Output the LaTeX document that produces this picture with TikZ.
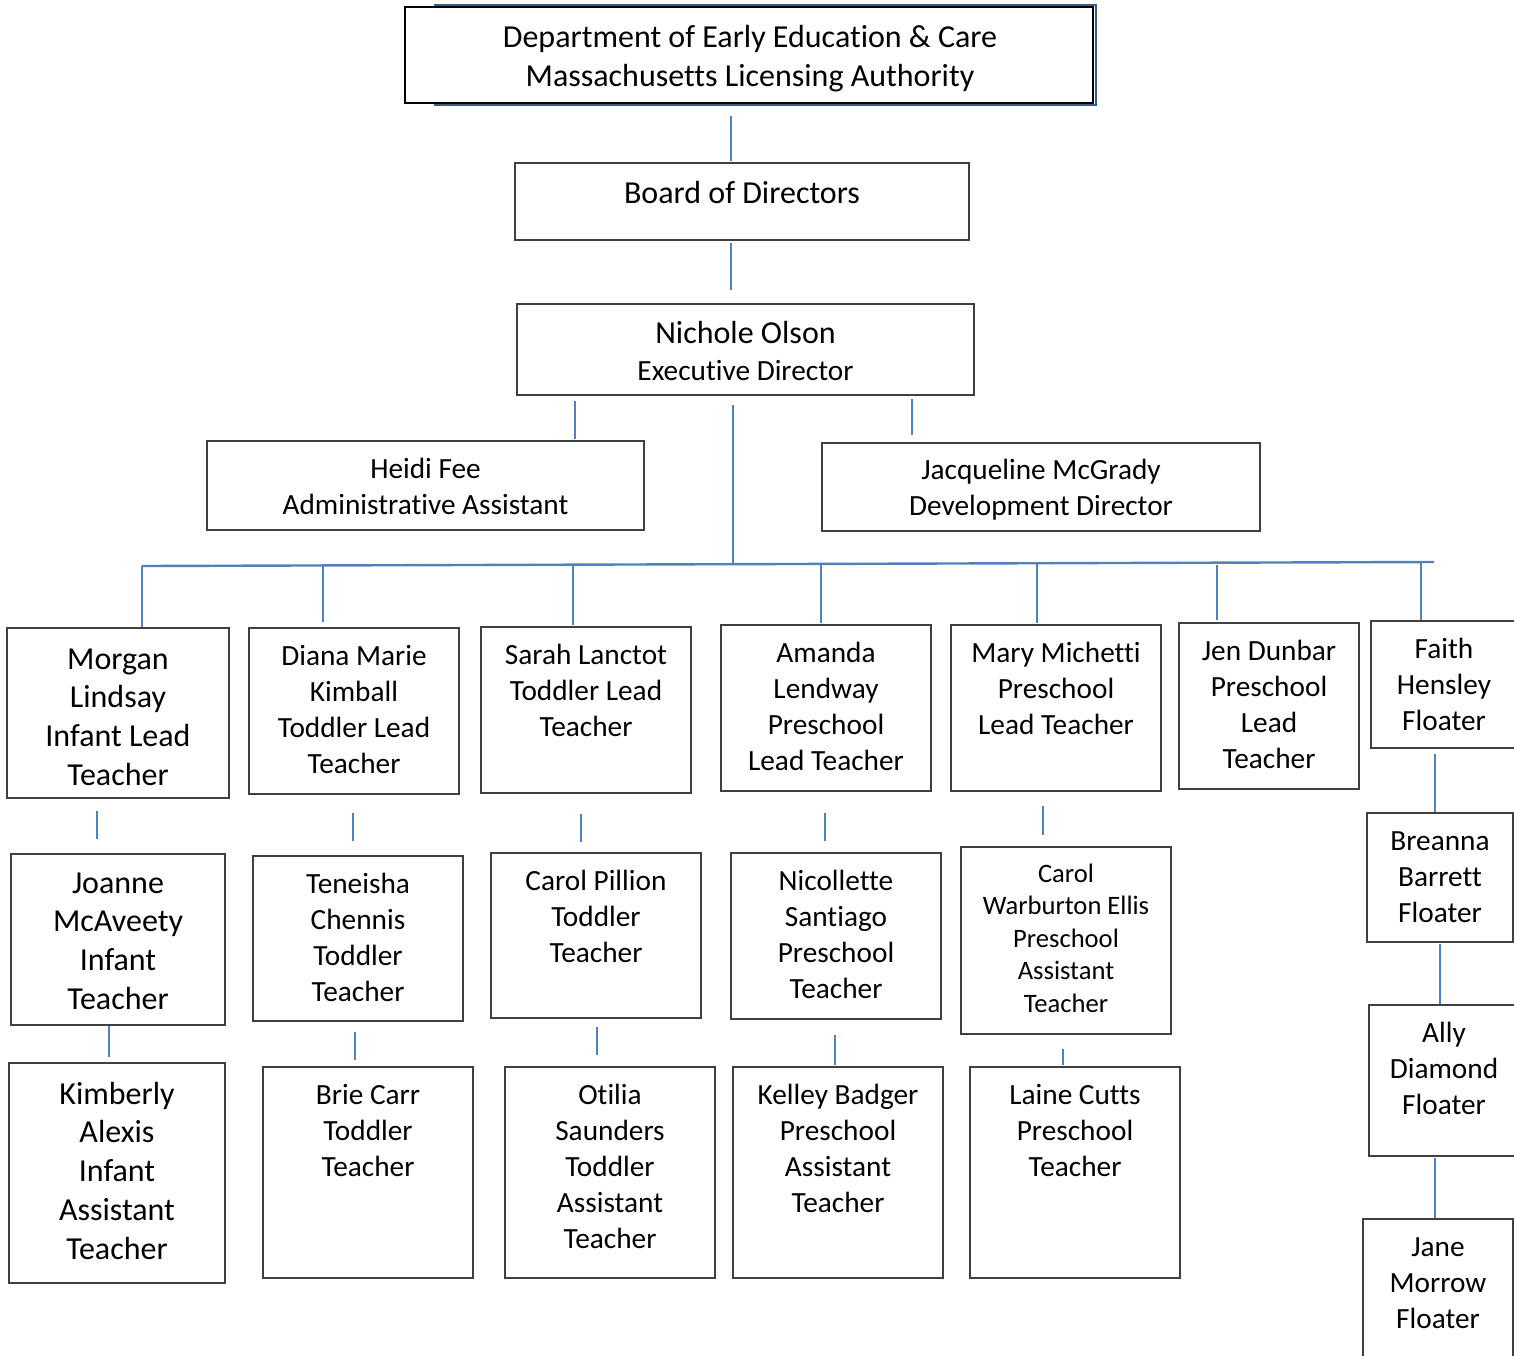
\documentclass[tikz,border=0pt]{standalone}
\usepackage{fontspec}
\setmainfont[RawFeature={-liga;-clig}]{Carlito}
\usetikzlibrary{calc}

\definecolor{boxgray}{RGB}{64,64,64}
\definecolor{linkblue}{RGB}{79,129,189}
\definecolor{framenavy}{RGB}{56,93,138}

\newcommand\orgtext{\fontsize{14.65}{18}\selectfont}
\newcommand\orgbig{\fontsize{16}{19.4}\selectfont}
\newcommand\orgsmall{\fontsize{13.3}{16.25}\selectfont}

\begin{document}
\begin{tikzpicture}[x=0.5pt,y=-0.5pt,
    box/.style={draw=boxgray,line width=1pt,fill=white,inner sep=0pt},
    conn/.style={draw=linkblue,line width=1.2pt},
    txt/.style={anchor=base,align=flush center,text width=260pt,inner sep=0pt,font=\orgtext},
    bigtxt/.style={txt,font=\orgbig},
    smalltxt/.style={txt,font=\orgsmall}]

  \clip (0,0) rectangle (1514,1355);

  % top of the chart
  \node[draw=framenavy,line width=1pt,inner sep=0pt,minimum width=330.5pt,minimum height=50pt] (deptframe) at (765.5,55) {};
  \node[box,draw=black,minimum width=344pt,minimum height=48pt] (dept) at (749,55) {};
  \node[box,minimum width=227pt,minimum height=38.5pt]   (board) at (742,201.5) {};
  \node[box,minimum width=228.5pt,minimum height=45.5pt] (exec)  at (745.5,349.5) {};
  \node[box,minimum width=218.5pt,minimum height=44.5pt] (admin) at (425.5,485.5) {};
  \node[box,minimum width=219pt,minimum height=44pt]     (devdir) at (1041,487) {};

  \node[txt,font=\fontsize{16}{19.5}\selectfont] (dept-t) at ($(dept.north)+(1,41)$)
    {Department of Early Education \& Care\\Massachusetts Licensing Authority};
  \node[txt,font=\orgbig] (board-t) at ($(board.north)+(0,41)$) {Board of Directors};
  \node[txt] (exec-t) at ($(exec.north)+(0,40)$) {{\orgbig Nichole Olson}\\[0.5pt]Executive Director};
  \node[txt] (admin-t)  at ($(admin.north)+(0,38)$)  {Heidi Fee\\Administrative Assistant};
  \node[txt] (devdir-t) at ($(devdir.north)+(0,37)$) {Jacqueline McGrady\\Development Director};

  % lead teachers and floaters
  \node[box,minimum width=111pt,minimum height=85pt]  (morgan)  at (118,713) {};
  \node[box,minimum width=105pt,minimum height=83pt]  (diana)   at (354,711) {};
  \node[box,minimum width=105pt,minimum height=83pt]  (sarah)   at (586,710) {};
  \node[box,minimum width=105pt,minimum height=83pt]  (amanda)  at (826,708) {};
  \node[box,minimum width=105pt,minimum height=83pt]  (mary)    at (1056,708) {};
  \node[box,minimum width=90pt,minimum height=83pt]   (jen)     at (1269,706) {};
  \node[box,minimum width=72.5pt,minimum height=63.5pt] (faith) at (1443.5,684.5) {};

  \node[bigtxt] (morgan-t) at ($(morgan.north)+(0,42)$) {Morgan\\Lindsay\\Infant Lead\\Teacher};
  \node[txt] (diana-t)  at ($(diana.north)+(0,38)$)  {Diana Marie\\Kimball\\Toddler Lead\\Teacher};
  \node[txt] (sarah-t)  at ($(sarah.north)+(0,38)$)  {Sarah Lanctot\\Toddler Lead\\Teacher};
  \node[txt] (amanda-t) at ($(amanda.north)+(0,38)$) {Amanda\\Lendway\\Preschool\\Lead Teacher};
  \node[txt] (mary-t)   at ($(mary.north)+(0,38)$)   {Mary Michetti\\Preschool\\Lead Teacher};
  \node[txt] (jen-t)    at ($(jen.north)+(0,38)$)    {Jen Dunbar\\Preschool\\Lead\\Teacher};
  \node[txt] (faith-t)  at ($(faith.north)+(0.5,38)$) {Faith\\Hensley\\Floater};

  % teachers
  \node[box,minimum width=107pt,minimum height=85.5pt] (joanne)   at (118,939.5) {};
  \node[box,minimum width=105pt,minimum height=82.5pt] (teneisha) at (358,938.5) {};
  \node[box,minimum width=105pt,minimum height=82.5pt] (carolp)   at (596,935.5) {};
  \node[box,minimum width=105pt,minimum height=83pt]   (nicol)    at (836,936) {};
  \node[box,minimum width=105pt,minimum height=93.5pt] (carolw)   at (1066,940.5) {};
  \node[box,minimum width=73pt,minimum height=64.5pt]  (breanna)  at (1440,877.5) {};

  \node[bigtxt] (joanne-t) at ($(joanne.north)+(0,40)$) {Joanne\\McAveety\\Infant\\Teacher};
  \node[txt] (teneisha-t) at ($(teneisha.north)+(0,38)$) {Teneisha\\Chennis\\Toddler\\Teacher};
  \node[txt] (carolp-t)   at ($(carolp.north)+(0,38)$)   {Carol Pillion\\Toddler\\Teacher};
  \node[txt] (nicol-t)    at ($(nicol.north)+(0,38)$)    {Nicollette\\Santiago\\Preschool\\Teacher};
  \node[smalltxt] (carolw-t) at ($(carolw.north)+(0,36)$) {Carol\\Warburton Ellis\\Preschool\\Assistant\\Teacher};
  \node[txt] (breanna-t)  at ($(breanna.north)+(0,38)$)  {Breanna\\Barrett\\Floater};

  % assistant teachers
  \node[box,minimum width=108pt,minimum height=110pt]  (kimberly) at (117,1173) {};
  \node[box,minimum width=105pt,minimum height=105.5pt] (brie)    at (368,1172.5) {};
  \node[box,minimum width=105pt,minimum height=105.5pt] (otilia)  at (610,1172.5) {};
  \node[box,minimum width=105pt,minimum height=105.5pt] (kelley)  at (838,1172.5) {};
  \node[box,minimum width=105pt,minimum height=105.5pt] (laine)   at (1075,1172.5) {};
  \node[box,minimum width=74.5pt,minimum height=75.5pt] (ally)    at (1443.5,1080.5) {};
  \node[box,minimum width=75pt,minimum height=75.5pt]   (jane)    at (1438,1294.5) {};

  \node[bigtxt] (kimberly-t) at ($(kimberly.north)+(0,42)$) {Kimberly\\Alexis\\Infant\\Assistant\\Teacher};
  \node[txt] (brie-t)   at ($(brie.north)+(0,38)$)   {Brie Carr\\Toddler\\Teacher};
  \node[txt] (otilia-t) at ($(otilia.north)+(0,38)$) {Otilia\\Saunders\\Toddler\\Assistant\\Teacher};
  \node[txt] (kelley-t) at ($(kelley.north)+(0,38)$) {Kelley Badger\\Preschool\\Assistant\\Teacher};
  \node[txt] (laine-t)  at ($(laine.north)+(0,38)$)  {Laine Cutts\\Preschool\\Teacher};
  \node[txt] (ally-t)   at ($(ally.north)+(0.5,38)$) {Ally\\Diamond\\Floater};
  \node[txt] (jane-t)   at ($(jane.north)+(0,38)$)   {Jane\\Morrow\\Floater};

  % connectors
  \coordinate (busL) at (142,566);
  \coordinate (busR) at (1434,562);
  \coordinate (busT) at (733,565);

  \draw[conn] ($(dept.south)+(-18,12)$) -- ($(board.north)+(-11,-1)$);
  \draw[conn] ($(board.south)+(-11,2)$) -- ($(exec.north)+(-14.5,-13)$);
  \draw[conn] ($(exec.south)+(-170.5,5)$) -- ($(admin.north)+(149.5,-1)$);
  \draw[conn] ($(exec.south)+(166.5,3)$) -- ($(devdir.north)+(-129,-7)$);
  \draw[conn] ($(exec.south)+(-12.5,9)$) -- (busT);
  \draw[conn] (busL) -- (busR);

  \draw[conn] (busL) -- (busL |- morgan.north);
  \draw[conn] ($(diana.north)+(-31,-63)$)  -- ++(0,58);
  \draw[conn] ($(sarah.north)+(-13,-62)$)  -- ++(0,61);
  \draw[conn] ($(amanda.north)+(-5,-59)$)  -- ++(0,58);
  \draw[conn] ($(mary.north)+(-19,-61)$)   -- ++(0,60);
  \draw[conn] ($(jen.north)+(-52,-57)$)    -- ++(0,55);
  \draw[conn] ($(faith.north)+(-22.5,-59)$) -- (faith.north -| 1421,0);

  \draw[conn] ($(morgan.south)+(-21,12)$) -- ($(joanne.north)+(-21,-14)$);
  \draw[conn] ($(diana.south)+(-1,18)$)   -- ($(teneisha.north)+(-5,-14)$);
  \draw[conn] ($(sarah.south)+(-5,20)$)   -- ($(carolp.north)+(-15,-10)$);
  \draw[conn] ($(amanda.south)+(-1,21)$)  -- ($(nicol.north)+(-11,-11)$);
  \draw[conn] ($(mary.south)+(-13,14)$)   -- ($(carolw.north)+(-23,-11)$);
  \draw[conn] ($(faith.south)+(-8.5,5)$)  -- ($(breanna.north)+(-5,0)$);

  \draw[conn] ($(joanne.south)+(-9,0)$)   -- ($(kimberly.north)+(-8,-5)$);
  \draw[conn] ($(teneisha.south)+(-3,10)$) -- ($(brie.north)+(-13,-6)$);
  \draw[conn] ($(carolp.south)+(1,8)$)    -- ($(otilia.north)+(-13,-11)$);
  \draw[conn] ($(nicol.south)+(-1,15)$)   -- ($(kelley.north)+(-3,-1)$);
  \draw[conn] ($(carolw.south)+(-3,14)$)  -- ($(laine.north)+(-12,-1)$);
  \draw[conn] ($(breanna.south)+(0,1)$)   -- ($(ally.north)+(-3.5,0)$);
  \draw[conn] ($(ally.south)+(-8.5,1)$)   -- ($(jane.north)+(-3,0)$);
\end{tikzpicture}
\end{document}
